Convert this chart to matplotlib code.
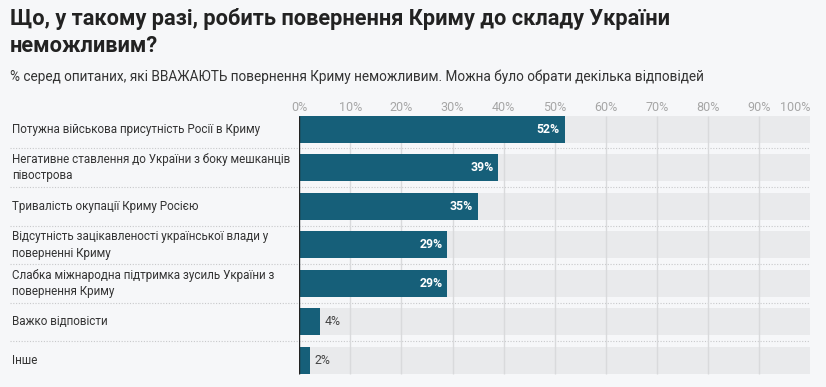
import numpy as np
import matplotlib.pyplot as plt
import matplotlib.transforms as mtransforms

plt.rcParams['font.family'] = ['Roboto', 'DejaVu Sans']

# data
categories = [
    'Потужна військова присутність Росії в Криму',
    'Негативне ставлення до України з боку мешканців\nпівострова',
    'Тривалість окупації Криму Росією',
    'Відсутність зацікавленості української влади у\nповерненні Криму',
    'Слабка міжнародна підтримка зусиль України з\nповернення Криму',
    'Важко відповісти',
    'Інше',
]
values = [52, 39, 35, 29, 29, 4, 2]
ticks = [0, 10, 20, 30, 40, 50, 60, 70, 80, 90, 100]
tick_labels = [f'{t}%' for t in ticks]

title = 'Що, у такому разі, робить повернення Криму до складу України\nнеможливим?'
subtitle = '% серед опитаних, які ВВАЖАЮТЬ повернення Криму неможливим. Можна було обрати декілька відповідей'

bg = '#f6f7f9'
bar_color = '#165f79'
track_color = '#e9eaec'
W, H = 826, 387

fig = plt.figure(figsize=(W / 100, H / 100), dpi=100, facecolor=bg)
x0, x1 = 299.3, 810
ytop, ybot = 109.9, 379.8
ax = fig.add_axes([x0 / W, 1 - ybot / H, (x1 - x0) / W, (ybot - ytop) / H])
ax.set_facecolor(bg)

ax.set_xlim(0, 100)
ax.set_ylim(len(values) - 0.5, -0.5)

y = np.arange(len(values))
bh = 0.7
ax.barh(y, [100] * len(values), height=bh, color=track_color, zorder=1)
for t in ticks[1:-1]:
    ax.vlines(t, -bh / 2, len(values) - 1 + bh / 2, color='#d9dadc', lw=1, zorder=2)
ax.barh(y, values, height=bh, color=bar_color, zorder=3)
ax.vlines(0, -bh / 2, len(values) - 1 + bh / 2, color='#222222', lw=1, zorder=4)

# dotted row separators
for i in range(len(values) - 1):
    ax.axhline(i + 0.5, xmin=-(x0 - 10) / (x1 - x0), xmax=1, color='#c8c9cb',
               lw=0.8, ls=(0, (1, 1.5)), clip_on=False, zorder=0)

for yi, v in zip(y, values):
    if v > 10:
        ax.text(v - 1.0, yi, f'{v}%', ha='right', va='center', color='white',
                fontsize=8.8, fontweight='bold', zorder=5)
    else:
        ax.text(v + 1.0, yi, f'{v}%', ha='left', va='center', color='#444444',
                fontsize=8.8, zorder=5)

ax.set_xticks(ticks)
ax.set_xticklabels(tick_labels)
ax.xaxis.tick_top()
ax.tick_params(axis='x', length=0, pad=-3, labelsize=9, labelcolor='#a6a6a6')
ax.get_xticklabels()[-1].set_ha('right')
ax.set_yticks([])
for s in ax.spines.values():
    s.set_visible(False)

# category labels on the left
trans = mtransforms.blended_transform_factory(fig.transFigure, ax.transData)
for yi, c in zip(y, categories):
    fig.text(12 / W, yi, c, transform=trans, ha='left', va='center',
             fontsize=8.4, color='#333333', linespacing=1.33)

fig.text(10 / W, 1 - 8 / H, title, ha='left', va='top', fontsize=15.7,
         fontweight='bold', color='#222222', linespacing=1.3)
fig.text(10 / W, 1 - 77 / H, subtitle, ha='left', va='center', fontsize=9.8,
         color='#333333')

fig.savefig('out.png', dpi=100, facecolor=bg)
